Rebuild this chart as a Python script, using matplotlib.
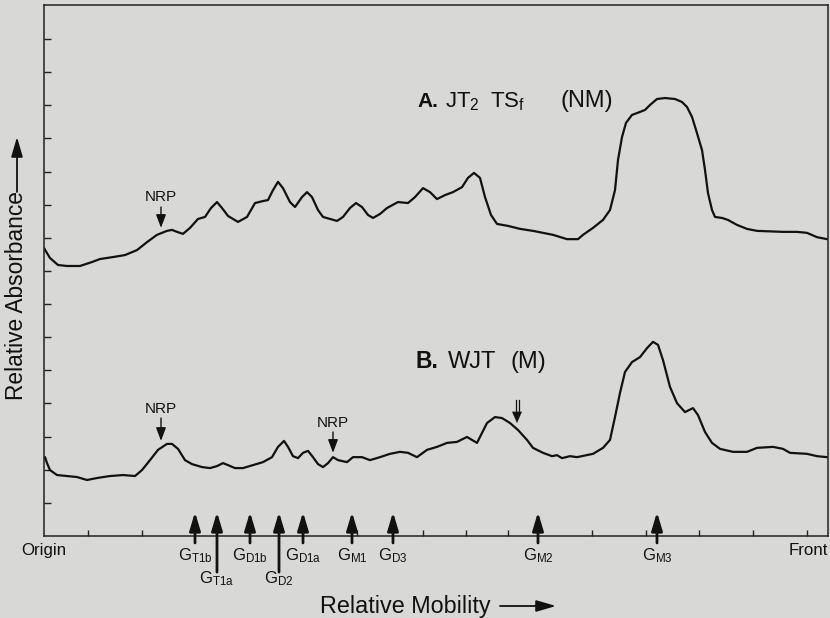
import matplotlib
matplotlib.use("Agg")
import matplotlib.pyplot as plt
from matplotlib.patches import FancyArrowPatch

plt.rcParams['font.family'] = ['Liberation Sans', 'DejaVu Sans']
plt.rcParams['mathtext.fontset'] = 'custom'
plt.rcParams['mathtext.rm'] = 'Liberation Sans'
plt.rcParams['mathtext.it'] = 'Liberation Sans:italic'
plt.rcParams['mathtext.bf'] = 'Liberation Sans:bold'

# ---------------- data ----------------
# Trace A: JT2 TSf (NM)  (relative mobility, relative absorbance)
a_mob = [0, 6, 14, 23, 36, 48, 56, 69, 81, 93, 103, 113, 123, 128, 133, 139, 146, 154,
         161, 167, 173, 178, 184, 194, 203, 211, 219, 224, 229, 234, 239, 246, 251,
         258, 263, 268, 274, 279, 293, 299, 306, 312, 318, 324, 329, 336, 343, 354,
         364, 371, 379, 386, 393, 401, 409, 418, 424, 430, 436, 441, 447, 453, 464,
         476, 489, 509, 523, 534, 539, 549, 559, 566, 571, 574, 578, 582, 588, 596,
         601, 606, 613, 621, 631, 638, 643, 648, 653, 658, 661, 664, 668, 671, 678,
         684, 693, 703, 713, 739, 753, 763, 773, 783]
a_abs = [8.69, 8.39, 8.18, 8.15, 8.15, 8.27, 8.36, 8.42, 8.48, 8.63, 8.87, 9.09, 9.21,
         9.24, 9.18, 9.12, 9.30, 9.57, 9.63, 9.90, 10.08, 9.90, 9.66, 9.48, 9.63,
         10.05, 10.11, 10.14, 10.44, 10.69, 10.50, 10.08, 9.93, 10.23, 10.38, 10.23,
         9.84, 9.63, 9.51, 9.63, 9.90, 10.05, 9.93, 9.69, 9.60, 9.72, 9.90, 10.08,
         10.05, 10.23, 10.50, 10.38, 10.17, 10.29, 10.38, 10.53, 10.81, 10.96, 10.81,
         10.23, 9.69, 9.42, 9.36, 9.27, 9.21, 9.09, 8.96, 8.96, 9.09, 9.30, 9.54,
         9.84, 10.44, 11.35, 12.04, 12.47, 12.71, 12.80, 12.86, 13.01, 13.19, 13.22,
         13.19, 13.10, 12.95, 12.65, 12.16, 11.65, 11.05, 10.35, 9.84, 9.63, 9.60,
         9.54, 9.39, 9.27, 9.21, 9.18, 9.18, 9.15, 9.02, 8.96]

# Trace B: WJT (M)
b_mob = [1, 3, 6, 13, 23, 33, 43, 53, 66, 79, 91, 98, 106, 114, 123, 128, 134, 141,
         148, 158, 166, 173, 179, 184, 191, 199, 209, 219, 228, 234, 240, 244, 249,
         254, 259, 264, 269, 274, 279, 284, 289, 294, 303, 309, 318, 326, 336, 346,
         356, 364, 373, 383, 393, 403, 413, 423, 428, 433, 438, 443, 451, 458, 466,
         474, 483, 489, 499, 508, 513, 518, 526, 533, 549, 559, 566, 571, 576, 581,
         588, 596, 603, 609, 614, 619, 626, 633, 641, 649, 654, 661, 668, 676, 689,
         703, 713, 729, 739, 746, 763, 773, 783]
b_abs = [2.38, 2.20, 1.99, 1.84, 1.81, 1.78, 1.69, 1.75, 1.81, 1.84, 1.81, 1.99, 2.29,
         2.60, 2.78, 2.78, 2.63, 2.29, 2.17, 2.08, 2.05, 2.11, 2.20, 2.14, 2.05, 2.05,
         2.14, 2.23, 2.38, 2.69, 2.87, 2.69, 2.41, 2.35, 2.51, 2.57, 2.38, 2.17, 2.08,
         2.20, 2.38, 2.29, 2.23, 2.38, 2.38, 2.29, 2.38, 2.48, 2.54, 2.51, 2.38, 2.60,
         2.69, 2.81, 2.84, 2.99, 2.90, 2.81, 3.11, 3.41, 3.59, 3.56, 3.41, 3.20, 2.90,
         2.66, 2.51, 2.41, 2.44, 2.35, 2.41, 2.38, 2.48, 2.66, 2.90, 3.59, 4.32, 4.95,
         5.25, 5.40, 5.67, 5.86, 5.77, 5.31, 4.50, 4.01, 3.74, 3.86, 3.65, 3.14, 2.81,
         2.63, 2.54, 2.54, 2.66, 2.69, 2.63, 2.51, 2.48, 2.41, 2.38]

# Ganglioside standards (mobility positions)
std_names = ['T1b', 'T1a', 'D1b', 'D2', 'D1a', 'M1', 'D3', 'M2', 'M3']
std_mob = [151, 173, 206, 235, 259, 308, 349, 494, 613]
std_row = [0, 1, 0, 1, 0, 0, 0, 0, 0]

x_tick_pos = [44, 98, 313, 379, 422, 464, 548, 602, 655, 709, 763]
y_tick_pos = list(range(1, 16))

# ---------------- figure ----------------
BG = '#d8d8d6'
INK = '#111111'
fig = plt.figure(figsize=(8.30, 6.18), dpi=100, facecolor=BG)
ax = fig.add_axes([44 / 830, 1 - 536 / 618, 784 / 830, 531 / 618], facecolor=BG)
ax.set_xlim(0, 784)
ax.set_ylim(0, 531 / 33.13)

ax.plot(a_mob, a_abs, color=INK, lw=1.6, solid_joinstyle='round', solid_capstyle='round')
ax.plot(b_mob, b_abs, color=INK, lw=1.6, solid_joinstyle='round', solid_capstyle='round')

for s in ax.spines.values():
    s.set_linewidth(1.1)
    s.set_color('#222222')

ax.set_xticks(x_tick_pos)
ax.set_yticks(y_tick_pos)
ax.tick_params(axis='both', direction='in', color='#222222', width=1.0,
               labelbottom=False, labelleft=False)
ax.tick_params(axis='x', length=4)
ax.tick_params(axis='y', length=5)

# standards arrows and labels
for name, m, row in zip(std_names, std_mob, std_row):
    low = -0.21 if row == 0 else -1.09
    ax.annotate('', xy=(m, 0.72), xytext=(m, low), xycoords='data',
                annotation_clip=False,
                arrowprops=dict(arrowstyle='-|>,head_length=1.1,head_width=0.33',
                                mutation_scale=10, lw=2.0, color=INK,
                                shrinkA=0, shrinkB=0))
    ly = -0.58 if row == 0 else -1.28
    ax.text(m, ly, r'G$_{\mathregular{' + name + '}}$', ha='center', va='center',
            fontsize=12, color=INK, clip_on=False)

ax.text(-23, -0.45, 'Origin', ha='left', va='center', fontsize=12.2, color=INK,
        clip_on=False)
ax.text(784, -0.45, 'Front', ha='right', va='center', fontsize=12.2, color=INK,
        clip_on=False)

# trace labels
ax.text(373, 12.95, 'A.', ha='left', va='baseline', fontsize=15, fontweight='bold',
        color=INK)
ax.text(401, 12.95, r'JT$_{\mathregular{2}}$', ha='left', va='baseline',
        fontsize=16, color=INK)
ax.text(446, 12.95, r'TS$_{\mathregular{f}}$', ha='left', va='baseline',
        fontsize=16, color=INK)
ax.text(543, 12.95, '(NM)', ha='center', va='baseline', fontsize=17, color=INK)

ax.text(372, 5.07, 'B.', ha='left', va='baseline', fontsize=16.5, fontweight='bold',
        color=INK)
ax.text(404, 5.07, 'WJT', ha='left', va='baseline', fontsize=17, color=INK)
ax.text(484, 5.07, '(M)', ha='center', va='baseline', fontsize=17, color=INK)

# NRP markers
nrp = [(117, 10.23, 9.93, 9.30), (117, 3.83, 3.56, 2.87), (289, 3.41, 3.14, 2.51)]
for x, ty, y0, y1 in nrp:
    ax.text(x, ty, 'NRP', ha='center', va='center', fontsize=11, color=INK)
    ax.annotate('', xy=(x, y1), xytext=(x, y0),
                arrowprops=dict(arrowstyle='-|>,head_length=0.8,head_width=0.3',
                                mutation_scale=10, lw=1.0, color=INK,
                                shrinkA=0, shrinkB=0))

# double-shaft arrow
ax.plot([471.5, 471.5], [4.10, 3.75], color=INK, lw=0.9)
ax.plot([474.5, 474.5], [4.10, 3.75], color=INK, lw=0.9)
ax.annotate('', xy=(473, 3.41), xytext=(473, 3.80),
            arrowprops=dict(arrowstyle='-|>,head_length=0.8,head_width=0.35',
                            mutation_scale=10, lw=0.1, color=INK,
                            shrinkA=0, shrinkB=0))

# axis titles with arrows
fig.text(320 / 830, 1 - 606 / 618, 'Relative Mobility', ha='left', va='center',
         fontsize=16.8, color=INK)
fig.patches.append(FancyArrowPatch(
    (500 / 830, 1 - 606 / 618), (556 / 830, 1 - 606 / 618), transform=fig.transFigure,
    arrowstyle='-|>,head_length=1.2,head_width=0.35', mutation_scale=10, lw=1.3,
    color=INK, shrinkA=0, shrinkB=0))

fig.text(17 / 830, 1 - 400 / 618, 'Relative Absorbance', rotation=90, ha='center',
         va='bottom', fontsize=16.4, color=INK)
fig.patches.append(FancyArrowPatch(
    (17 / 830, 1 - 192 / 618), (17 / 830, 1 - 137 / 618), transform=fig.transFigure,
    arrowstyle='-|>,head_length=1.2,head_width=0.35', mutation_scale=10, lw=1.3,
    color=INK, shrinkA=0, shrinkB=0))

fig.savefig('out.png', dpi=100, facecolor=BG)
